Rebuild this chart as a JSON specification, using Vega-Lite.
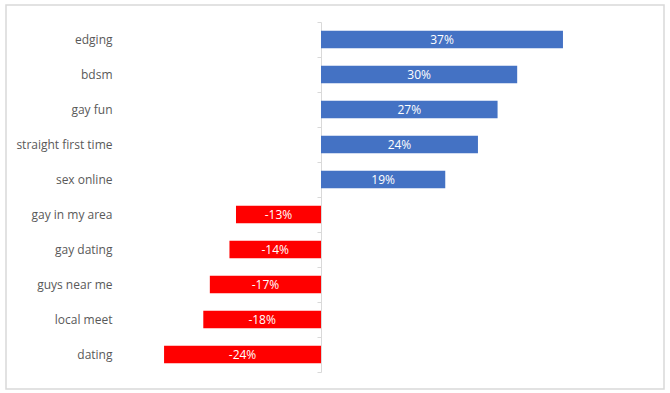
{
  "$schema": "https://vega.github.io/schema/vega-lite/v6.json",
  "width": 658,
  "height": 384,
  "autosize": {"type": "none"},
  "padding": {"left": 6, "top": 5, "right": 6, "bottom": 4},
  "background": "white",
  "config": {
    "view": {"stroke": "#d9d9d9", "strokeWidth": 1.5},
    "font": "Open Sans"
  },
  "data": {
    "values": [
      {"term": "edging", "value": 0.37},
      {"term": "bdsm", "value": 0.30},
      {"term": "gay fun", "value": 0.27},
      {"term": "straight first time", "value": 0.24},
      {"term": "sex online", "value": 0.19},
      {"term": "gay in my area", "value": -0.13},
      {"term": "gay dating", "value": -0.14},
      {"term": "guys near me", "value": -0.17},
      {"term": "local meet", "value": -0.18},
      {"term": "dating", "value": -0.24}
    ]
  },
  "transform": [
    {"calculate": "datum.value / 2", "as": "mid"},
    {"calculate": "datum.value > 0 ? 'pos' : 'neg'", "as": "sign"},
    {"calculate": "replace(format(datum.value, '.0%'), '\u2212', '-')", "as": "label"}
  ],
  "encoding": {
    "y": {
      "field": "term",
      "type": "nominal",
      "sort": null,
      "scale": {"paddingInner": 0, "paddingOuter": 0, "range": [17, 367]},
      "axis": {
        "title": null,
        "offset": -315,
        "tickBand": "extent",
        "tickSize": 4,
        "tickColor": "#d9d9d9",
        "domainColor": "#d9d9d9",
        "labelPadding": 205,
        "labelColor": "#595959",
        "labelFontSize": 12,
        "labelFont": "Open Sans",
        "grid": false
      }
    }
  },
  "layer": [
    {
      "mark": {"type": "bar", "height": {"band": 0.5}},
      "encoding": {
        "x": {
          "field": "value",
          "type": "quantitative",
          "scale": {"domain": [-0.4817, 0.5245], "nice": false, "zero": false},
          "axis": null
        },
        "x2": {"datum": 0},
        "color": {
          "field": "sign",
          "type": "nominal",
          "scale": {"domain": ["pos", "neg"], "range": ["#4472C4", "#FF0000"]},
          "legend": null
        }
      }
    },
    {
      "mark": {"type": "text", "color": "white", "fontSize": 12, "font": "Open Sans", "align": "center", "baseline": "middle"},
      "encoding": {
        "x": {"field": "mid", "type": "quantitative"},
        "text": {"field": "label", "type": "nominal"}
      }
    }
  ]
}
